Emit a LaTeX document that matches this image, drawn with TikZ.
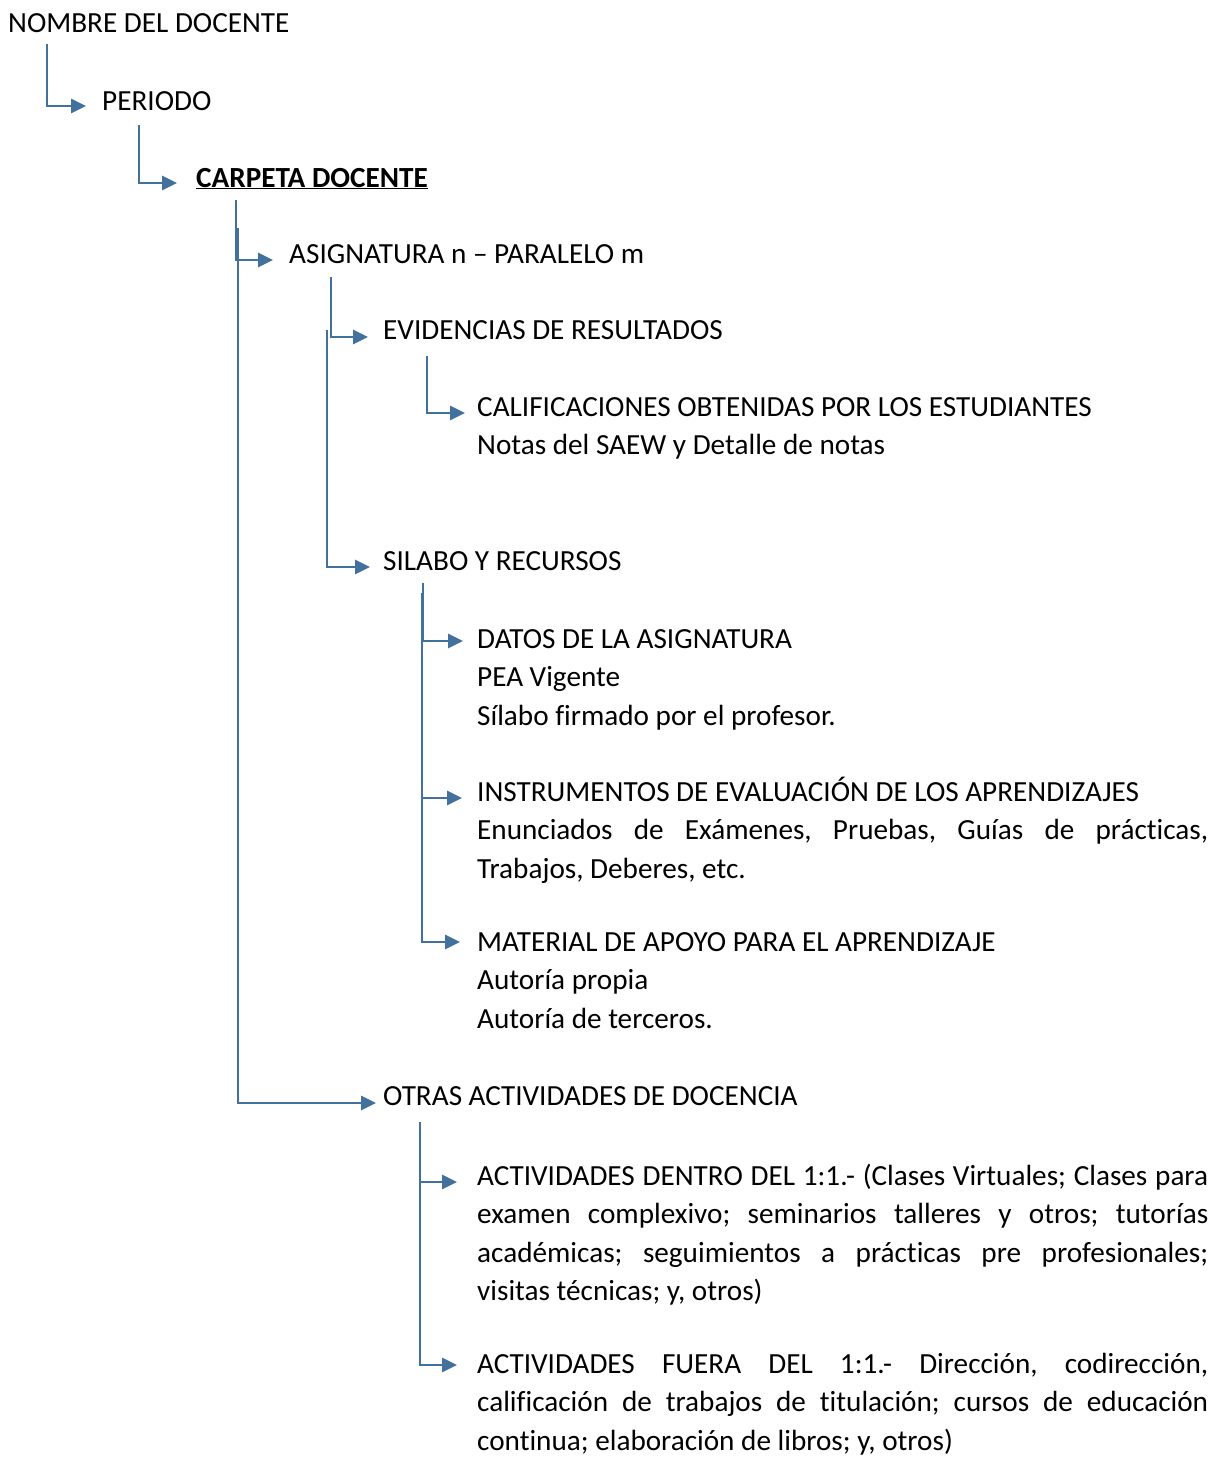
\documentclass[tikz,border=0pt]{standalone}
\usepackage{fontspec}
\setmainfont{Carlito}[Ligatures=NoCommon]
\usetikzlibrary{arrows.meta}
\definecolor{azul}{RGB}{65,113,156}
\hyphenpenalty=10000
\exhyphenpenalty=10000
\frenchspacing

\begin{document}
\begin{tikzpicture}[x=1pt,y=1pt,
  txt/.style={anchor=base west,inner sep=0pt,font=\fontsize{29.2}{38.5}\selectfont},
  parr/.style={txt,text width=731pt,align=justify},
  rama/.style={draw=azul,line width=2.7pt,-{Triangle[length=15pt,width=14pt]}}]
  \useasboundingbox (0,0) rectangle (1216,-1459);
  \node[txt] (nombre) at (8,-32) {NOMBRE DEL DOCENTE};
  \node[txt] (periodo) at (102,-110) {PERIODO};
  \node[txt] (carpeta) at (196,-187) {\bfseries\underline{CARPETA DOCENTE}};
  \node[txt] (asignatura) at (289,-263) {ASIGNATURA n – PARALELO m};
  \node[txt] (evidencias) at (383,-339) {EVIDENCIAS DE RESULTADOS};
  \node[parr] (calificaciones) at (477,-416) {CALIFICACIONES OBTENIDAS POR LOS ESTUDIANTES\\Notas del SAEW y Detalle de notas};
  \node[txt] (silabo) at (383,-570) {SILABO Y RECURSOS};
  \node[parr] (datos) at (477,-648) {DATOS DE LA ASIGNATURA\\PEA Vigente\\Sílabo firmado por el profesor.};
  \node[parr] (instrumentos) at (477,-801) {INSTRUMENTOS DE EVALUACIÓN DE LOS APRENDIZAJES\\Enunciados de Exámenes, Pruebas, Guías de prácticas,\linebreak Trabajos, Deberes, etc.};
  \node[parr] (material) at (477,-951) {MATERIAL DE APOYO PARA EL APRENDIZAJE\\Autoría propia\\Autoría de terceros.};
  \node[txt] (otras) at (383,-1105) {OTRAS ACTIVIDADES DE DOCENCIA};
  \node[parr] (dentro) at (477,-1185) {ACTIVIDADES DENTRO DEL 1:1.- (Clases Virtuales; Clases para\linebreak examen complexivo; seminarios talleres y otros; tutorías\linebreak académicas; seguimientos a prácticas pre profesionales;\linebreak visitas técnicas; y, otros)};
  \node[parr] (fuera) at (477,-1373) {ACTIVIDADES FUERA DEL 1:1.- Dirección, codirección,\linebreak calificación de trabajos de titulación; cursos de educación\linebreak continua; elaboración de libros; y, otros)};

  % ramas del arbol
  \draw[rama] ([xshift=39pt,yshift=-12pt]nombre.base west) |- ([xshift=-16pt,yshift=4pt]periodo.base west);
  \draw[rama] ([xshift=37pt,yshift=-15pt]periodo.base west) |- ([xshift=-19pt,yshift=4pt]carpeta.base west);
  \draw[rama] ([xshift=40pt,yshift=-13pt]carpeta.base west) |- ([xshift=-16pt,yshift=3pt]asignatura.base west);
  \draw[rama] ([xshift=42pt,yshift=-41pt]carpeta.base west) |- ([xshift=-7pt,yshift=2pt]otras.base west);
  \draw[rama] ([xshift=42pt,yshift=-14pt]asignatura.base west) |- ([xshift=-15pt,yshift=2pt]evidencias.base west);
  \draw[rama] ([xshift=38pt,yshift=-67pt]asignatura.base west) |- ([xshift=-13pt,yshift=3pt]silabo.base west);
  \draw[rama] ([xshift=44pt,yshift=-17pt]evidencias.base west) |- ([xshift=-12pt,yshift=3pt]calificaciones.base west);
  \draw[rama] ([xshift=40pt,yshift=-13pt]silabo.base west) |- ([xshift=-14pt,yshift=7pt]datos.base west);
  \draw[rama] ([xshift=39pt,yshift=-23pt]silabo.base west) |- ([xshift=-15pt,yshift=3pt]instrumentos.base west);
  \draw[rama] ([xshift=39pt,yshift=-23pt]silabo.base west) |- ([xshift=-17pt,yshift=9pt]material.base west);
  \draw[rama] ([xshift=37pt,yshift=-17pt]otras.base west) |- ([xshift=-20pt,yshift=3pt]dentro.base west);
  \draw[rama] ([xshift=37pt,yshift=-17pt]otras.base west) |- ([xshift=-20pt,yshift=8pt]fuera.base west);

\end{tikzpicture}
\end{document}
